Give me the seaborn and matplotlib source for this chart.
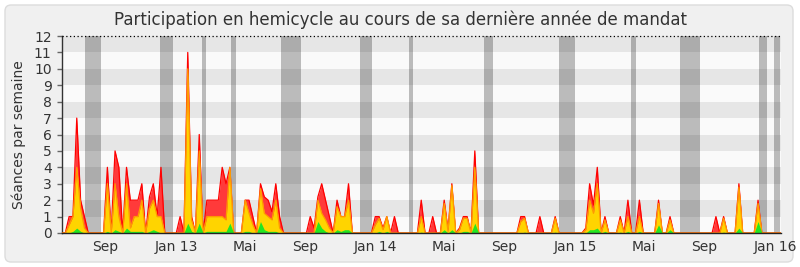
import matplotlib
matplotlib.use("Agg")
import matplotlib.pyplot as plt
import matplotlib.transforms as mtransforms
from matplotlib.patches import FancyBboxPatch
import seaborn as sns
import pandas as pd

# ---------------- data (weekly values) ----------------
start_date = "2012-06-05"
n_weeks = 189

presences = [
    0, 0, 1, 1, 7, 2, 1, 0, 0, 0,
    0, 0, 4, 0, 5, 4, 0, 4, 2, 2,
    2, 3, 0, 2.2, 3, 1, 4, 0, 0, 0,
    0, 1, 0, 11, 1, 0, 6, 0, 2, 2,
    2, 2, 4, 3, 4, 0, 0, 0, 2, 2,
    1, 0, 3, 2.2, 2, 1.3, 3, 1, 0, 0,
    0, 0, 0, 0, 0, 1, 0.3, 2.2, 3, 2,
    1, 0, 2, 1, 1, 3, 0, 0, 0, 0,
    0, 0, 1, 1, 0.3, 1, 0, 1, 0, 0,
    0, 0, 0, 0, 2, 0, 0, 1, 0, 0,
    2, 0.2, 3, 0, 0.3, 1, 1, 0, 5, 0,
    0, 0, 0, 0, 0, 0, 0, 0, 0, 0,
    1, 1, 0, 0, 0, 1, 0, 0, 0, 1,
    0, 0, 0, 0, 0, 0, 0, 0.3, 3, 1.7,
    4, 0, 1, 0, 0, 0, 1, 0, 2, 0,
    0, 2, 0, 0, 0, 0, 2, 0, 0, 1,
    0, 0, 0, 0, 0, 0, 0, 0, 0, 0,
    0, 1, 0, 1, 0, 0, 0, 3, 0, 0,
    0, 0, 2, 0, 0, 0, 0, 0, 0,
]

participations = [
    0, 0, 0.5, 1, 4, 1.5, 0.3, 0, 0, 0,
    0, 0, 3, 0, 3, 1, 0, 3, 0.3, 1,
    1, 2, 0, 1.5, 2, 1, 1, 0, 0, 0,
    0, 0, 0, 10, 0.8, 0, 5, 0, 1, 1,
    1, 1, 1, 0.8, 4, 0, 0, 0, 2, 1.2,
    0.5, 0, 2.7, 1.2, 1, 0.8, 2, 0.3, 0, 0,
    0, 0, 0, 0, 0, 0, 0, 2, 1.2, 0.8,
    0.3, 0, 1.6, 1, 1, 2, 0, 0, 0, 0,
    0, 0, 0.5, 0.9, 0.2, 1, 0, 0, 0, 0,
    0, 0, 0, 0, 1, 0, 0, 0, 0, 0,
    1.8, 0.1, 2.9, 0, 0.2, 0.9, 0.9, 0, 4, 0,
    0, 0, 0, 0, 0, 0, 0, 0, 0, 0,
    0.7, 0.9, 0, 0, 0, 0, 0, 0, 0, 0.9,
    0, 0, 0, 0, 0, 0, 0, 0.2, 2, 1.2,
    3, 0, 0.8, 0, 0, 0, 0.8, 0, 1, 0,
    0, 1, 0, 0, 0, 0, 1.8, 0, 0, 0.8,
    0, 0, 0, 0, 0, 0, 0, 0, 0, 0,
    0, 0, 0, 0.9, 0, 0, 0, 2.8, 0, 0,
    0, 0, 1.8, 0, 0, 0, 0, 0, 0,
]

interventions = [
    0, 0, 0, 0.1, 0.3, 0.1, 0, 0, 0, 0,
    0, 0, 0.1, 0, 0.2, 0.1, 0, 0.3, 0.1, 0.1,
    0.1, 0.1, 0, 0.1, 0.2, 0.1, 0, 0, 0, 0,
    0, 0, 0, 0.6, 0.1, 0, 0.6, 0, 0.1, 0.1,
    0.1, 0.1, 0.1, 0.1, 0.6, 0, 0, 0, 0.1, 0.1,
    0, 0, 0.7, 0.2, 0.1, 0.1, 0.1, 0, 0, 0,
    0, 0, 0, 0, 0, 0, 0, 0.7, 0.3, 0.1,
    0, 0, 0.2, 0.1, 0.2, 0.2, 0, 0, 0, 0,
    0, 0, 0, 0.1, 0, 0.1, 0, 0, 0, 0,
    0, 0, 0, 0, 0.05, 0, 0, 0, 0, 0,
    0.2, 0, 0.2, 0, 0, 0.1, 0.1, 0, 0.6, 0,
    0, 0, 0, 0, 0, 0, 0, 0, 0, 0,
    0, 0.05, 0, 0, 0, 0, 0, 0, 0, 0.05,
    0, 0, 0, 0, 0, 0, 0, 0, 0.2, 0.2,
    0.3, 0, 0.1, 0, 0, 0, 0.05, 0, 0.1, 0,
    0, 0.1, 0, 0, 0, 0, 0.5, 0, 0, 0.2,
    0, 0, 0, 0, 0, 0, 0, 0, 0, 0,
    0, 0, 0, 0.05, 0, 0, 0, 0.3, 0, 0,
    0, 0, 0.7, 0, 0, 0, 0, 0, 0,
]

vacances = [
    ("2012-07-18", "2012-08-17"), ("2012-12-03", "2012-12-26"),
    ("2013-02-17", "2013-02-24"), ("2013-04-12", "2013-04-21"),
    ("2013-07-12", "2013-08-17"), ("2013-12-03", "2013-12-25"),
    ("2014-03-02", "2014-03-10"), ("2014-07-18", "2014-08-03"),
    ("2014-12-02", "2014-12-31"), ("2015-04-13", "2015-04-22"),
    ("2015-07-12", "2015-08-17"), ("2015-12-03", "2015-12-17"),
    ("2015-12-31", "2016-01-11"),
]

tick_dates = ["2012-08-24", "2013-01-01", "2013-05-07", "2013-08-24",
              "2014-01-01", "2014-05-06", "2014-08-24", "2015-01-01",
              "2015-05-07", "2015-08-24", "2016-01-01"]
tick_labels = ["Sep", "Jan 13", "Mai", "Sep", "Jan 14", "Mai", "Sep",
               "Jan 15", "Mai", "Sep", "Jan 16"]
y_ticks = list(range(0, 13))

title = "Participation en hemicycle au cours de sa dernière année de mandat"
ylabel = "Séances par semaine"

# ---------------- figure ----------------
sns.set_theme(style="white")
plt.rcParams["font.family"] = ["DejaVu Sans"]

dates = pd.date_range(start_date, periods=n_weeks, freq="7D")
df = pd.DataFrame({"date": dates, "presences": presences,
                   "participations": participations,
                   "interventions": interventions})

fig = plt.figure(figsize=(8, 2.67), dpi=100)
fig.patch.set_facecolor("white")
frame = FancyBboxPatch((5, 5), 788, 257,
                       boxstyle="round,pad=0,rounding_size=6",
                       transform=mtransforms.IdentityTransform(),
                       facecolor="#f0f0f0", edgecolor="#dcdcdc", lw=1, zorder=-10)
fig.patches.append(frame)

ax = fig.add_axes([62 / 800, 1 - 233 / 267, 719 / 800, 197 / 267])
ax.set_zorder(1)
ax.set_facecolor("#fafafa")
for k in range(6):
    ax.axhspan(2 * k + 1, 2 * k + 2, color="#e6e6e6", lw=0, zorder=0)
for a, b in vacances:
    ax.axvspan(pd.Timestamp(a), pd.Timestamp(b), color="black", alpha=0.25,
               lw=0, zorder=1)

ax.fill_between(df["date"], df["presences"], color="#ff3a3a", lw=0, zorder=2)
sns.lineplot(data=df, x="date", y="presences", color="#ff0000", lw=0.9,
             ax=ax, zorder=3)
ax.fill_between(df["date"], df["participations"], color="#ffd400", lw=0, zorder=4)
sns.lineplot(data=df, x="date", y="participations", color="#ff9a00", lw=0.9,
             ax=ax, zorder=5)
ax.fill_between(df["date"], df["interventions"], color="#22e622", lw=0, zorder=6)

ax.axhline(12, color="black", ls=(0, (1, 2)), lw=0.9, zorder=7, clip_on=False)

ax.set_xlim(pd.Timestamp("2012-06-06"), pd.Timestamp("2016-01-12"))
ax.set_ylim(0, 12)
ax.set_yticks(y_ticks)
ax.set_yticklabels([str(v) for v in y_ticks])
ax.set_xticks([pd.Timestamp(d) for d in tick_dates])
ax.set_xticklabels(tick_labels)
ax.tick_params(axis="x", length=0, pad=5, labelsize=10, labelcolor="#333333")
ax.tick_params(axis="y", length=3.5, width=1, color="#666666", pad=4,
               labelsize=10, labelcolor="#333333", left=True)

for s in ["top", "right"]:
    ax.spines[s].set_visible(False)
ax.spines["left"].set_color("#333333")
ax.spines["left"].set_linewidth(1)
ax.spines["bottom"].set_color("#222222")
ax.spines["bottom"].set_linewidth(1)
ax.spines["bottom"].set_zorder(10)

ax.set_xlabel("")
ax.set_ylabel(ylabel, fontsize=10, color="#333333")
ax.yaxis.set_label_coords(-0.05, 0.5)

fig.text(0.5, 1 - 20 / 267, title, ha="center", va="center",
         fontsize=12, color="#333333")

fig.savefig("out.png", dpi=100)
